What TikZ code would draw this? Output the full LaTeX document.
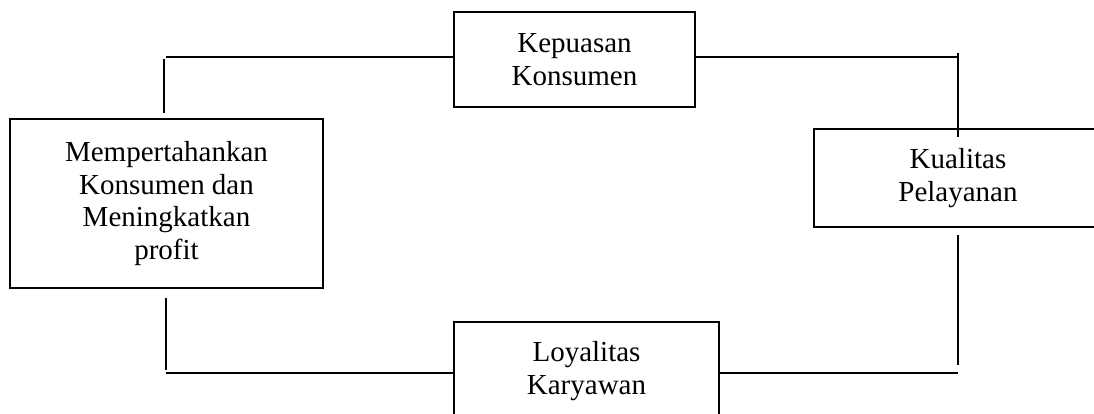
\documentclass[tikz,border=0pt]{standalone}
\usepackage{fontspec}
\setmainfont{Liberation Serif}
\begin{document}
\begin{tikzpicture}[x=1pt,y=-1pt,
  box/.style={draw, line width=1.7pt, align=center, inner sep=0pt,
    font=\fontsize{29}{32.5}\selectfont},
  conn/.style={line width=1.7pt}]
\useasboundingbox (0,0) rectangle (1094,414);
% boxes (centre, size)
\node[box, minimum width=241pt, minimum height=95pt] (kep) at (574.5,59.5) {Kepuasan\\Konsumen};
\node[box, minimum width=313pt, minimum height=169pt] (mem) at (166.5,203.5) {Mempertahankan\\Konsumen dan\\Meningkatkan\\profit};
\node[box, minimum width=288pt, minimum height=98pt] (kua) at (958,178) {Kualitas\\Pelayanan};
\node[box, minimum width=265pt, minimum height=98pt] (loy) at (586.5,371) {Loyalitas\\Karyawan};
% free ends of connectors
\coordinate (tl) at (166,57);
\coordinate (tlv1) at (164,113);
\coordinate (tlv2) at (164,59);
\coordinate (tr) at (958,57);
\coordinate (trv1) at (958,53);
\coordinate (trv2) at (958,137);
\coordinate (rv1) at (958,235);
\coordinate (rv2) at (958,365);
\coordinate (br) at (958,373);
\coordinate (blv1) at (166,298);
\coordinate (blv2) at (166,370);
\coordinate (bl) at (166,373);
% connectors
\draw[conn] (tlv1) -- (tlv2);
\draw[conn] (tl) -- (kep.west |- tl);
\draw[conn] (kep.east |- tr) -- (tr);
\draw[conn] (trv1) -- (trv2);
\draw[conn] (rv1) -- (rv2);
\draw[conn] (loy.east |- br) -- (br);
\draw[conn] (blv1) -- (blv2);
\draw[conn] (bl) -- (loy.west |- bl);
\end{tikzpicture}
\end{document}
